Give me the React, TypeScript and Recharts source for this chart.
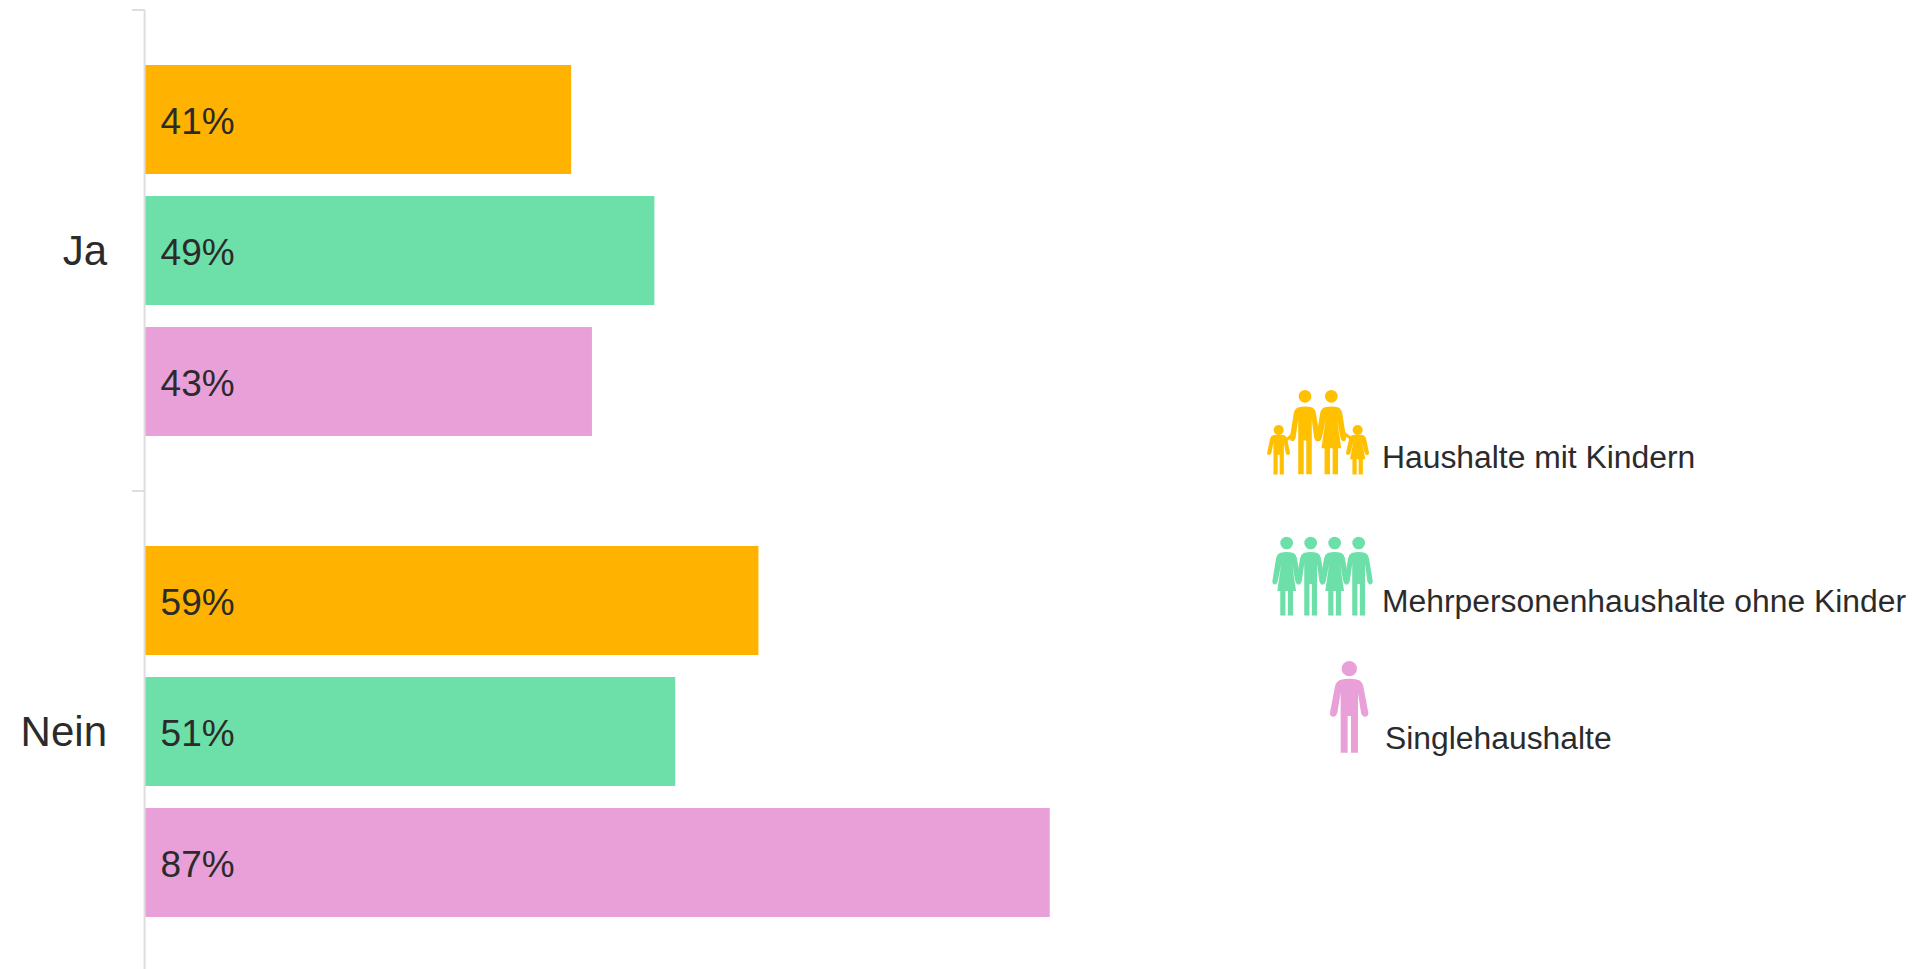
import { BarChart, Bar, XAxis, YAxis, LabelList, Legend } from 'recharts';

const categories = ['Ja', 'Nein'];
const haushalteMitKindern = [41, 59];
const mehrpersonen = [49, 51];
const singles = [43, 87];

const seriesNames = ['Haushalte mit Kindern', 'Mehrpersonenhaushalte ohne Kinder', 'Singlehaushalte'];
const barColors = ['#FFB300', '#6DDFA8', '#E9A0D8'];
const iconColors = ['#FFC000', '#6DDFA8', '#E9A0D8'];

const chartData = categories.map((name, i) => ({
  name,
  kinder: haushalteMitKindern[i],
  mehr: mehrpersonen[i],
  single: singles[i],
}));

const FONT = '"Liberation Sans", Arial, sans-serif';
const TEXT_COLOR = '#2b2b2b';
const AXIS_COLOR = '#dedede';
const BAND = 481;

const MAN =
  'M30 57Q58 50 86 57Q97 62 100 76L115 155Q115 167 105 167Q97 167 93 155L84 95L84 275L63 275L63 165L53 165L53 275L32 275L32 95L22 155Q18 167 10 167Q0 167 0 155L15 76Q18 62 30 57Z';
const WOMAN =
  'M30 57Q58 50 86 57Q97 62 100 76L115 155Q115 167 105 167Q97 167 93 155L80 95L96 190L84 190L84 275L63 275L63 190L53 190L53 275L32 275L32 190L20 190L36 95L22 155Q18 167 10 167Q0 167 0 155L15 76Q18 62 30 57Z';

// hx, y is the middle of the head and the top of the figure, in the 3x legend space
function Person({ hx, y, s, sx, r, woman, color }: { hx: number; y: number; s: number; sx: number; r: number; woman?: boolean; color: string }) {
  return (
    <g fill={color}>
      <circle cx={hx} cy={y + r} r={r} />
      <path transform={`translate(${hx - 58 * sx} ${y}) scale(${sx} ${s})`} d={woman ? WOMAN : MAN} />
    </g>
  );
}

function LegendIcons() {
  return (
    <g>
      {/* family */}
      <Person hx={195} y={60} s={0.92} sx={0.78} r={19} color={iconColors[0]} />
      <Person hx={274} y={60} s={0.92} sx={0.78} r={19} woman color={iconColors[0]} />
      <Person hx={116} y={165} s={0.54} sx={0.6} r={15} color={iconColors[0]} />
      <Person hx={353} y={165} s={0.54} sx={0.6} r={15} woman color={iconColors[0]} />
      <path d="M130 218L160 192M312 190L342 212" stroke={iconColors[0]} strokeWidth={9} />
      {/* group */}
      <Person hx={140} y={500} s={0.86} sx={0.74} r={19} woman color={iconColors[1]} />
      <Person hx={212} y={500} s={0.86} sx={0.74} r={19} color={iconColors[1]} />
      <Person hx={284} y={500} s={0.86} sx={0.74} r={19} woman color={iconColors[1]} />
      <Person hx={356} y={500} s={0.86} sx={0.74} r={19} color={iconColors[1]} />
      {/* single */}
      <Person hx={328} y={873} s={1} sx={1} r={23} color={iconColors[2]} />
    </g>
  );
}

const labelPositions = [
  { x: 1382, y: 468 },
  { x: 1382, y: 612 },
  { x: 1385, y: 749 },
];

function PictoLegend({ payload }: any) {
  return (
    <svg
      width={690}
      height={420}
      style={{ position: 'absolute', left: 1240, top: 370, overflow: 'visible' }}
    >
      <g transform="scale(0.3333)">
        <LegendIcons />
      </g>
      {(payload || []).map((entry: any, i: number) => (
        <text
          key={entry.value}
          x={labelPositions[i].x - 1240}
          y={labelPositions[i].y - 370}
          fontFamily={FONT}
          fontSize={31.85}
          fill={TEXT_COLOR}
        >
          {entry.value}
        </text>
      ))}
    </svg>
  );
}

function CategoryTick({ y, payload }: any) {
  return (
    <g>
      <line x1={132} x2={145} y1={y - BAND / 2} y2={y - BAND / 2} stroke={AXIS_COLOR} strokeWidth={2} />
      <text x={107} y={y + 14} textAnchor="end" fontFamily={FONT} fontSize={42} fill={TEXT_COLOR}>
        {payload.value}
      </text>
    </g>
  );
}

export default function App() {
  const dataKeys = ['kinder', 'mehr', 'single'];
  return (
    <div style={{ position: 'absolute', left: 0, top: 0, width: 1930, height: 969, overflow: 'hidden', background: '#fff' }}>
      <BarChart
        width={1930}
        height={975}
        data={chartData}
        layout="vertical"
        margin={{ top: 10, right: 745, bottom: 3, left: 0 }}
        barSize={109}
        barGap={22}
        barCategoryGap={54}
      >
        <XAxis type="number" domain={[0, 100]} hide />
        <YAxis
          type="category"
          dataKey="name"
          width={144.6}
          axisLine={{ stroke: AXIS_COLOR, strokeWidth: 2 }}
          tickLine={false}
          tick={<CategoryTick />}
          interval={0}
        />
        <Legend
          content={<PictoLegend />}
          wrapperStyle={{ left: 0, top: 0, width: 0, height: 0 }}
        />
        {dataKeys.map((key, i) => (
          <Bar key={key} dataKey={key} name={seriesNames[i]} fill={barColors[i]} isAnimationActive={false}>
            <LabelList
              dataKey={key}
              position="insideLeft"
              offset={16}
              formatter={(v: any) => `${v}%`}
              style={{ fontFamily: FONT, fontSize: 37, fill: TEXT_COLOR, transform: 'translateY(1px)' }}
            />
          </Bar>
        ))}
      </BarChart>
    </div>
  );
}
